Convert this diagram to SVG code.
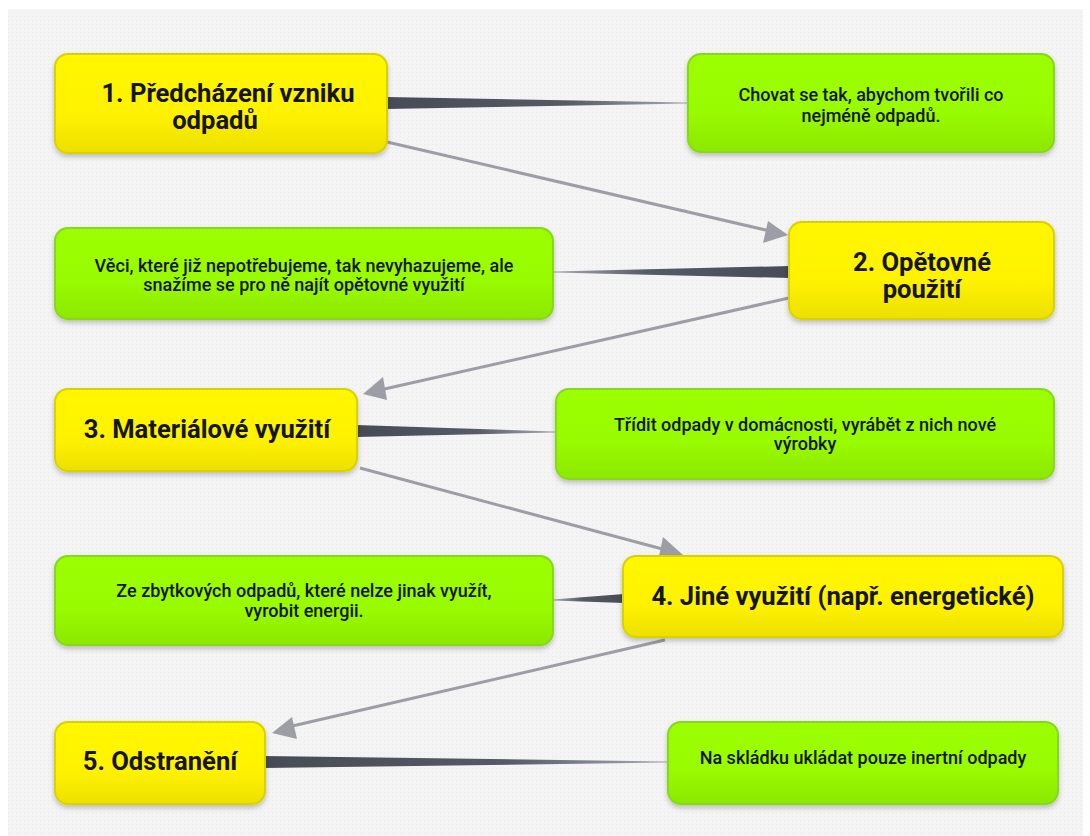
<svg xmlns="http://www.w3.org/2000/svg" width="1090" height="836" viewBox="0 0 1090 836">
<defs>
<linearGradient id="gy" x1="0" y1="0" x2="0" y2="1"><stop offset="0" stop-color="#fff700"/><stop offset="0.6" stop-color="#fff200"/><stop offset="1" stop-color="#ece000"/></linearGradient>
<linearGradient id="gg" x1="0" y1="0" x2="0" y2="1"><stop offset="0" stop-color="#9cff00"/><stop offset="0.6" stop-color="#98fb00"/><stop offset="1" stop-color="#8ce800"/></linearGradient>
<linearGradient id="tr" x1="0" y1="0" x2="1" y2="0"><stop offset="0" stop-color="#474b56"/><stop offset="0.6" stop-color="#555a66"/><stop offset="1" stop-color="#a8acb4"/></linearGradient>
<linearGradient id="tl" x1="1" y1="0" x2="0" y2="0"><stop offset="0" stop-color="#474b56"/><stop offset="0.6" stop-color="#555a66"/><stop offset="1" stop-color="#a8acb4"/></linearGradient>
<pattern id="dots" width="4" height="4" patternUnits="userSpaceOnUse"><rect width="4" height="4" fill="#f4f4f4"/><rect width="1" height="1" fill="#e9e9e9"/></pattern>
<filter id="sh" x="-10%" y="-10%" width="120%" height="130%"><feDropShadow dx="0" dy="3" stdDeviation="2.5" flood-color="#000" flood-opacity="0.22"/></filter>
</defs>
<style>
.y{fill:url(#gy);stroke:#d9d200;stroke-width:2;filter:url(#sh)}
.g{fill:url(#gg);stroke:#86d81a;stroke-width:2;filter:url(#sh)}
.ty{font-family:Roboto,"Liberation Sans",sans-serif;font-weight:bold;font-size:25.6px;fill:#151515;text-anchor:middle}
.tg{font-family:Roboto,"Liberation Sans",sans-serif;font-weight:500;font-size:18px;fill:#151515;text-anchor:middle}
.ar{stroke:#9d9da6;stroke-width:3;fill:none}
.ah{fill:#9d9da6}
</style>
<rect x="0" y="0" width="1090" height="836" fill="#ffffff"/>
<rect x="8" y="9" width="1075" height="827" fill="url(#dots)"/>
<g id="connectors">
<path d="M386,97 L688,102.5 L688,103.5 L386,109 Z" fill="url(#tr)"/>
<path d="M790,266 L553,271.5 L553,272.5 L790,278 Z" fill="url(#tl)"/>
<path d="M356,425 L556,431.5 L556,432.5 L356,437 Z" fill="url(#tr)"/>
<path d="M624,594 L553,599.5 L553,600.5 L624,603 Z" fill="url(#tl)"/>
<path d="M264,756 L668,761.5 L668,762.5 L264,768 Z" fill="url(#tr)"/>
<line class="ar" x1="387" y1="142" x2="770" y2="231"/>
<path class="ah" d="M788,235 L768,221 L763,243 Z"/>
<line class="ar" x1="789" y1="298" x2="380" y2="390"/>
<path class="ah" d="M363,394 L383,377 L387,400 Z"/>
<line class="ar" x1="360" y1="468" x2="666" y2="550"/>
<path class="ah" d="M683,555 L663,537 L659,556 Z"/>
<line class="ar" x1="665" y1="640" x2="288" y2="727"/>
<path class="ah" d="M272,733 L292,717 L297,739 Z"/>
</g>
<g id="n1"><rect class="y" x="55" y="54" width="332" height="99" rx="13"/><text class="ty" x="228" y="102">1. Předcházení vzniku</text><text class="ty" x="215" y="129">odpadů</text></g>
<g id="g1"><rect class="g" x="688" y="54" width="366" height="98" rx="13"/><text class="tg" x="871" y="101">Chovat se tak, abychom tvořili co</text><text class="tg" x="871" y="122">nejméně odpadů.</text></g>
<g id="n2"><rect class="y" x="789" y="222" width="265" height="97" rx="13"/><text class="ty" x="922" y="271">2. Opětovné</text><text class="ty" x="922" y="298">použití</text></g>
<g id="g2"><rect class="g" x="55" y="228" width="498" height="91" rx="13"/><text class="tg" x="304" y="272">Věci, které již nepotřebujeme, tak nevyhazujeme, ale</text><text class="tg" x="304" y="291">snažíme se pro ně najít opětovné využití</text></g>
<g id="n3"><rect class="y" x="55" y="389" width="302" height="82" rx="13"/><text class="ty" x="207" y="438">3. Materiálové využití</text></g>
<g id="g3"><rect class="g" x="556" y="389" width="498" height="90" rx="13"/><text class="tg" x="805" y="431">Třídit odpady v domácnosti, vyrábět z nich nové</text><text class="tg" x="805" y="450">výrobky</text></g>
<g id="n4"><rect class="y" x="623" y="556" width="440" height="81" rx="13"/><text class="ty" x="843" y="605">4. Jiné využití (např. energetické)</text></g>
<g id="g4"><rect class="g" x="55" y="556" width="498" height="89" rx="13"/><text class="tg" x="304" y="597">Ze zbytkových odpadů, které nelze jinak využít,</text><text class="tg" x="304" y="617">vyrobit energii.</text></g>
<g id="n5"><rect class="y" x="55" y="722" width="210" height="82" rx="13"/><text class="ty" x="160" y="770">5. Odstranění</text></g>
<g id="g5"><rect class="g" x="668" y="722" width="390" height="82" rx="13"/><text class="tg" x="863" y="764">Na skládku ukládat pouze inertní odpady</text></g>
</svg>
